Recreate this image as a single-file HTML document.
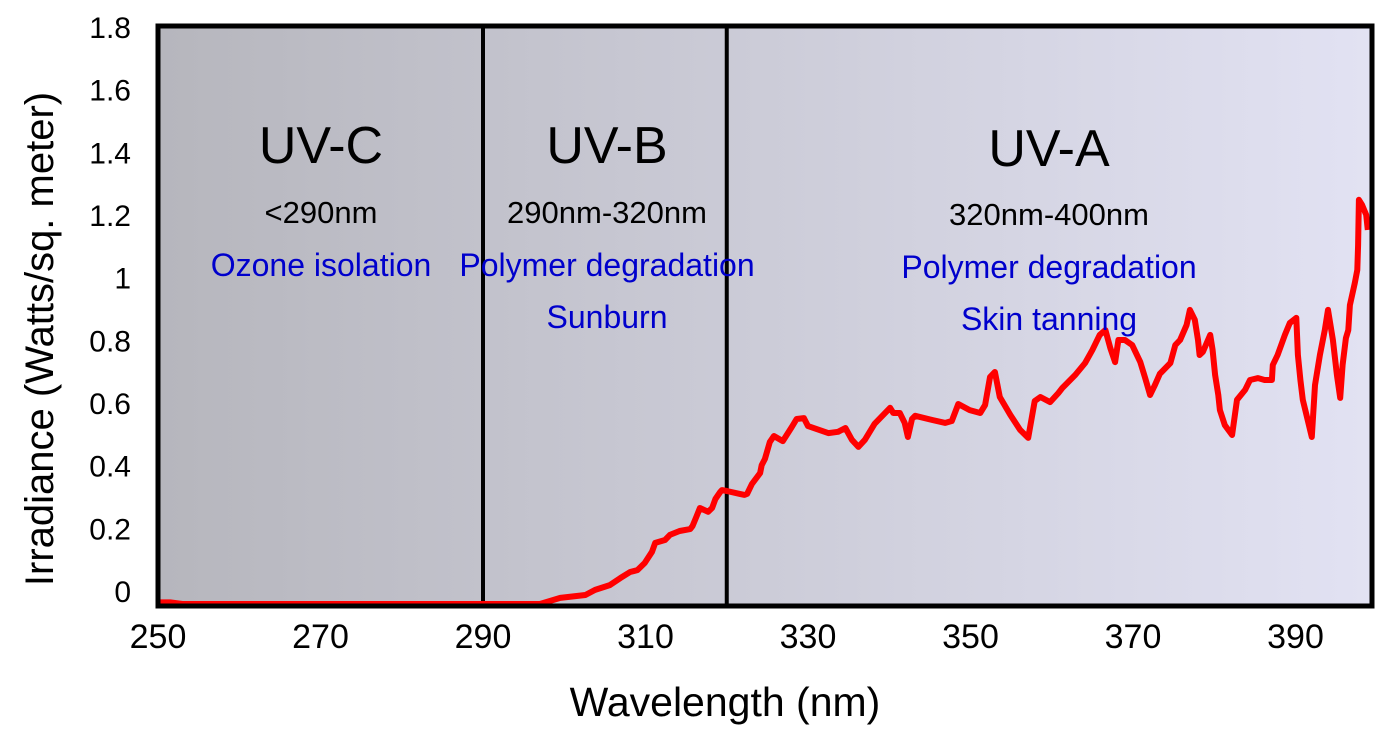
<!DOCTYPE html>
<html><head><meta charset="utf-8"><style>
html,body{margin:0;padding:0;background:#fff;}
svg{display:block;font-family:"Liberation Sans","DejaVu Sans",sans-serif;}
</style></head><body>
<svg id="chart" width="1392" height="747" viewBox="0 0 1392 747">
<defs><linearGradient id="bg" x1="0" x2="1" y1="0" y2="0"><stop offset="0" stop-color="#b6b6bd"/><stop offset="1" stop-color="#e2e2f3"/></linearGradient></defs>
<rect x="158" y="26" width="1214" height="580" fill="url(#bg)"/>
<g id="marks"></g>
<rect x="158" y="26" width="1214" height="580" fill="none" stroke="#000" stroke-width="5"/>
<g id="ticks"></g>
<g fill="#000" text-anchor="middle">
<text x="321" y="163" font-size="52">UV-C</text>
<text x="321" y="223" font-size="31">&lt;290nm</text>
<text x="321" y="276" font-size="32" fill="#0000cc">Ozone isolation</text>
<text x="607" y="163" font-size="52">UV-B</text>
<text x="607" y="223" font-size="31">290nm-320nm</text>
<text x="607" y="276" font-size="32" fill="#0000cc">Polymer degradation</text>
<text x="607" y="328" font-size="32" fill="#0000cc">Sunburn</text>
<text x="1049" y="166" font-size="52">UV-A</text>
<text x="1049" y="225" font-size="31">320nm-400nm</text>
<text x="1049" y="278" font-size="32" fill="#0000cc">Polymer degradation</text>
<text x="1049" y="330" font-size="32" fill="#0000cc">Skin tanning</text>
</g>
<text x="725" y="716" font-size="41" text-anchor="middle">Wavelength (nm)</text>
<text transform="translate(53,339) rotate(-90)" font-size="40" text-anchor="middle">Irradiance (Watts/sq. meter)</text>
</svg>
<script>
const wavelengths=[250,251.5,253,297,299.5,302.6,303.8,305.6,306.9,308.1,309,309.9,310.8,311.2,312.4,313,314.2,315.5,315.8,316.3,316.7,317.7,318.2,318.6,319.2,319.4,320,321.6,322.2,322.5,323.1,324.1,324.3,324.7,325.3,325.8,326.9,328,328.6,329.5,330,332.5,333.7,334.6,335.4,336.2,337,338.2,340.1,340.5,341.3,341.9,342.3,342.8,343.2,345.3,346.9,347.7,348.5,349.9,351.2,351.8,352.4,353,353.6,354.9,356.1,357.1,357.9,358.6,359.8,360.8,361.3,362.9,364.1,365,365.9,366.6,367.2,367.8,368.2,369,369.9,370.9,371.5,372.1,372.7,373.3,374.6,375.2,375.8,376.6,377,377.6,378,378.2,378.6,379.5,379.8,380.1,380.5,380.7,381.3,382.2,382.8,383.8,384.4,385.4,386.2,387.1,387.2,387.8,388.7,389.3,390.1,390.3,390.6,390.9,391.5,392,392.4,393,393.6,394,394.6,395.1,395.5,395.8,396.2,396.5,396.7,397.3,397.6,397.7,397.8,398.2,398.7,398.9];
const irradiance=[0.005,0.005,0,0,0.019,0.028,0.044,0.059,0.081,0.1,0.106,0.128,0.163,0.191,0.2,0.216,0.228,0.234,0.244,0.275,0.3,0.288,0.3,0.328,0.35,0.356,0.353,0.344,0.341,0.344,0.375,0.409,0.434,0.453,0.506,0.525,0.509,0.553,0.578,0.581,0.556,0.534,0.538,0.55,0.513,0.491,0.513,0.563,0.613,0.597,0.597,0.566,0.522,0.578,0.588,0.575,0.566,0.572,0.625,0.606,0.597,0.622,0.709,0.725,0.647,0.591,0.544,0.519,0.634,0.647,0.631,0.659,0.675,0.716,0.753,0.794,0.841,0.856,0.8,0.756,0.825,0.825,0.809,0.756,0.706,0.653,0.684,0.719,0.753,0.809,0.825,0.872,0.919,0.888,0.825,0.778,0.788,0.841,0.794,0.716,0.653,0.606,0.559,0.528,0.638,0.669,0.7,0.706,0.7,0.7,0.747,0.778,0.841,0.878,0.894,0.778,0.7,0.638,0.575,0.522,0.684,0.778,0.856,0.919,0.825,0.716,0.644,0.747,0.831,0.856,0.934,1.003,1.044,1.122,1.263,1.247,1.216,1.169];
const bandEdges=[290,320];
const xTicks=[250,270,290,310,330,350,370,390];
const yTicks=[0,0.2,0.4,0.6,0.8,1,1.2,1.4,1.6,1.8];
const yTickLabels=["0","0.2","0.4","0.6","0.8","1","1.2","1.4","1.6","1.8"];
const NS="http://www.w3.org/2000/svg";
function sx(v){return 158+(v-250)*8.125;}
function sy(v){return 604-v*320;}
function labelY(v){return 602-v*313.3;}
const marks=document.getElementById('marks'),ticks=document.getElementById('ticks');
bandEdges.forEach(b=>{
 const l=document.createElementNS(NS,'line');
 l.setAttribute('x1',sx(b));l.setAttribute('x2',sx(b));l.setAttribute('y1',26);l.setAttribute('y2',606);
 l.setAttribute('stroke','#000');l.setAttribute('stroke-width',4);
 
 
 marks.appendChild(l);
});
const p=document.createElementNS(NS,'path');
p.setAttribute('d',wavelengths.map((w,i)=>(i?'L':'M')+sx(w).toFixed(1)+','+sy(irradiance[i]).toFixed(1)).join(''));
p.setAttribute('fill','none');p.setAttribute('stroke','#ff0000');p.setAttribute('stroke-width',6);p.setAttribute('stroke-linejoin','round');


marks.appendChild(p);
xTicks.forEach(t=>{
 const e=document.createElementNS(NS,'text');
 e.setAttribute('x',sx(t));e.setAttribute('y',648);e.setAttribute('font-size',34);e.setAttribute('text-anchor','middle');
 e.textContent=t;
 
 
 ticks.appendChild(e);
});
yTicks.forEach((t,i)=>{
 const e=document.createElementNS(NS,'text');
 e.setAttribute('x',131);e.setAttribute('y',labelY(t));e.setAttribute('font-size',30);e.setAttribute('text-anchor','end');
 e.textContent=yTickLabels[i];
 
 
 ticks.appendChild(e);
});
</script>
</body></html>
